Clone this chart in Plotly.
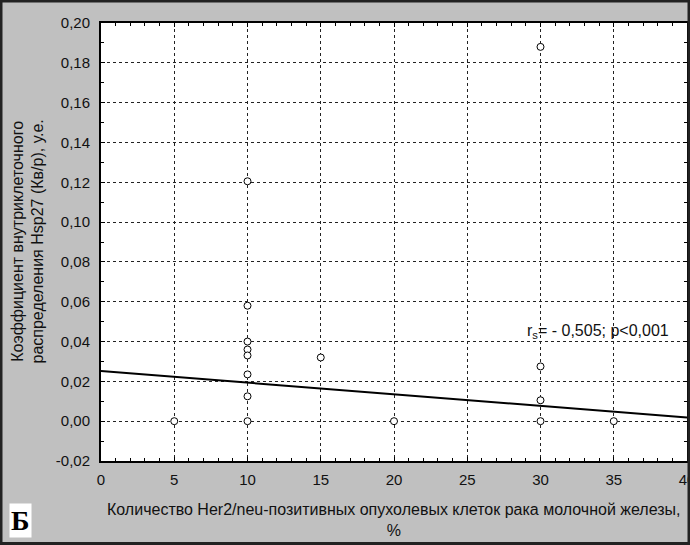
import plotly.graph_objects as go

# ---- data ----
her2_pct = [5, 10, 10, 10, 10, 10, 10, 10, 10, 15, 20, 30, 30, 30, 30, 35]
hsp27_kvr = [0.0, 0.1205, 0.058, 0.040, 0.036, 0.033, 0.0235, 0.0125, 0.0,
             0.032, 0.0, 0.188, 0.0275, 0.0105, 0.0, 0.0]
fit_intercept = 0.0252
fit_slope = -0.000585
fit_x = [0, 40]
x_tick_vals = [0, 5, 10, 15, 20, 25, 30, 35, 40]
y_tick_vals = [-0.02, 0.00, 0.02, 0.04, 0.06, 0.08, 0.10, 0.12, 0.14, 0.16, 0.18, 0.20]

W, H = 690, 545
ML, MR, MT, MB = 101, 3, 23, 84
PW, PH = W - ML - MR, H - MT - MB

font = "Liberation Sans, Arial, sans-serif"

fig = go.Figure()
fit_y = [fit_intercept + fit_slope * x for x in fit_x]
fig.add_trace(go.Scatter(x=fit_x, y=fit_y, mode="lines",
                         line=dict(color="black", width=2), showlegend=False,
                         hoverinfo="skip"))
fig.add_trace(go.Scatter(x=her2_pct, y=hsp27_kvr, mode="markers",
                         marker=dict(symbol="circle", size=7, color="white",
                                     line=dict(color="black", width=1)),
                         showlegend=False))

axis_common = dict(
    showline=True, linecolor="black", linewidth=2, mirror="allticks",
    ticks="inside", ticklen=4, tickcolor="black", tickwidth=1,
    showgrid=True, gridcolor="#222222", griddash="dot", gridwidth=1,
    zeroline=False, ticklabeloverflow="allow", automargin=False,
    tickfont=dict(family=font, size=15, color="#111111"),
)

fig.update_xaxes(range=[0, 40], tickvals=x_tick_vals,
                 ticktext=[str(v) for v in x_tick_vals],
                 minor=dict(ticks="inside", dtick=1, ticklen=3, tickcolor="black", showgrid=False),
                 ticklabelstandoff=4,
                 **axis_common)
fig.update_yaxes(range=[-0.02, 0.20], tickvals=y_tick_vals,
                 ticktext=[f"{v:.2f}".replace(".", ",") for v in y_tick_vals],
                 minor=dict(ticks="inside", dtick=0.01, tick0=0, ticklen=3, tickcolor="black", showgrid=False),
                 ticklabelstandoff=6,
                 **axis_common)

annotations = [
    dict(text="Коэффициент внутриклеточного<br>распределения Hsp27 (Кв/р), у.е.",
         xref="paper", yref="paper", x=0, y=0.5, xanchor="center", yanchor="middle",
         xshift=-(ML - 27.5), textangle=-90, showarrow=False,
         font=dict(family=font, size=16, color="#111111")),
    dict(text="Количество Her2/neu-позитивных опухолевых клеток рака молочной железы,<br>%",
         xref="paper", yref="paper", x=0.5, y=0, xanchor="center", yanchor="middle",
         yshift=-59, showarrow=False,
         font=dict(family=font, size=16, color="#111111")),
    dict(text="r<sub>s</sub>= - 0,505; p&lt;0,001",
         xref="x", yref="y", x=33.9, y=0.045, xanchor="center", yanchor="middle",
         showarrow=False, font=dict(family=font, size=16, color="#111111")),
    dict(text="<b>Б</b>", xref="paper", yref="paper", x=0, y=0,
         xanchor="center", yanchor="middle", xshift=-(ML - 20.5), yshift=-(520.5 - (H - MB)),
         showarrow=False, bgcolor="white", borderpad=1,
         font=dict(family="Liberation Serif, Times New Roman, serif", size=28, color="black")),
]

shapes = [
    dict(type="rect", xref="paper", yref="paper",
         x0=-(ML - 1) / PW, x1=1 + (MR - 1) / PW,
         y0=-(MB - 1.5) / PH, y1=1 + (MT - 1) / PH,
         line=dict(color="#222222", width=3), fillcolor="rgba(0,0,0,0)", layer="above"),
]

fig.update_layout(
    width=W, height=H,
    margin=dict(l=ML, r=MR, t=MT, b=MB, pad=0, autoexpand=False),
    paper_bgcolor="#c0c0c0", plot_bgcolor="white",
    annotations=annotations, shapes=shapes,
    showlegend=False,
)

fig.write_html("out.html", config={"displayModeBar": False},
               post_script="document.body.style.margin='0';document.body.style.overflow='hidden';")
